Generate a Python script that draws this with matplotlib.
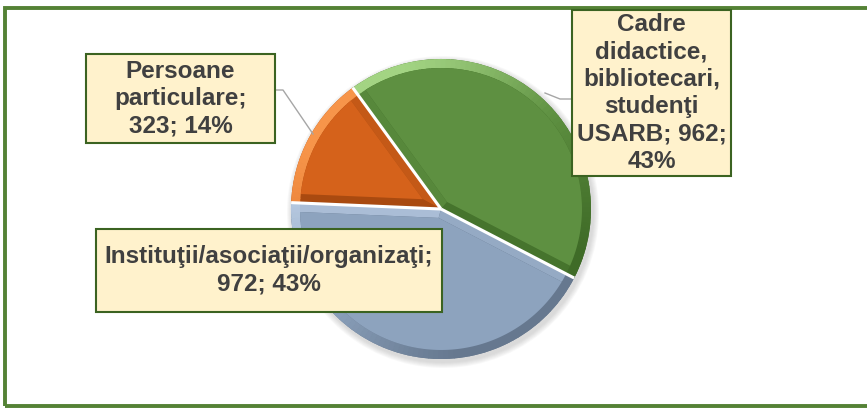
import textwrap

import numpy as np
import matplotlib
matplotlib.use('Agg')
import matplotlib.pyplot as plt
from matplotlib.patches import Rectangle, Wedge, Polygon, Circle


# data
categories = ['Cadre didactice, bibliotecari, studenţi USARB',
              'Persoane particulare',
              'Instituţii/asociaţii/organizaţi']
values = [962, 323, 972]

# colours per slice: main face, dark bevel, light bevel
face_col = ['#5e9041', '#d5621b', '#8da3be']
dark_col = ['#3f6b27', '#a94a10', '#66788f']
light_col = ['#a3d483', '#f7954a', '#c3d4ea']

W, H = 867, 408


def fy(y):
    '''image y (from top) -> data y'''
    return H - y


def mix(c1, c2, t):
    a = np.array(matplotlib.colors.to_rgb(c1))
    b = np.array(matplotlib.colors.to_rgb(c2))
    return tuple(a + (b - a) * t)


def shade(i, ang, bias=0.0):
    # light comes from the upper left
    s = np.cos(np.radians(ang - 130)) + bias
    if s >= 0:
        return mix(face_col[i], light_col[i], min(1, s * 1.1))
    return mix(face_col[i], dark_col[i], min(1, -s * 1.2))


family = ['Liberation Sans', 'DejaVu Sans']
fsize = 17.5

fig = plt.figure(figsize=(W / 100, H / 100), dpi=100)
ax = fig.add_axes([0, 0, 1, 1])

cx, cy, r = 441, fy(209), 150
d = 9  # bevel width

# soft shadow
for k in range(6):
    ax.add_patch(Circle((cx + 2, cy - 3), r + 1 + k, color='#808080',
                        alpha=0.05, lw=0, zorder=0))

wedges, _ = ax.pie(values, startangle=-27.4, counterclock=True,
                   center=(cx, cy), radius=r, colors=dark_col,
                   wedgeprops=dict(edgecolor='white', linewidth=0, zorder=1))

for i, w in enumerate(wedges):
    t1, t2 = w.theta1, w.theta2
    half = np.radians(t2 - t1) / 2
    mid = np.radians(t1 + t2) / 2
    apex = (cx + d / np.sin(half) * np.cos(mid), cy + d / np.sin(half) * np.sin(mid))
    dl = np.degrees(np.arcsin(d / (r - d)))

    # radial bevel strips
    for edge, inner, nrm in [(t1, t1 + dl, t1 - 90), (t2, t2 - dl, t2 + 90)]:
        pts = [(cx, cy),
               (cx + r * np.cos(np.radians(edge)), cy + r * np.sin(np.radians(edge))),
               (cx + (r - d) * np.cos(np.radians(inner)), cy + (r - d) * np.sin(np.radians(inner))),
               apex]
        ax.add_patch(Polygon(pts, closed=True, color=shade(i, nrm, -0.25), lw=0, zorder=2))

    # outer rim
    steps = np.linspace(t1, t2, int((t2 - t1) / 2) + 2)
    for a, b in zip(steps[:-1], steps[1:]):
        ax.add_patch(Wedge((cx, cy), r, a, b + 0.3, width=d,
                           color=shade(i, (a + b) / 2), lw=0, zorder=3))

    # inner face
    arc = np.radians(np.linspace(t1 + dl, t2 - dl, 120))
    pts = [apex] + [(cx + (r - d) * np.cos(a), cy + (r - d) * np.sin(a)) for a in arc]
    ax.add_patch(Polygon(pts, closed=True, color=face_col[i], lw=0, zorder=4))

# white separators
for w in wedges:
    a = np.radians(w.theta1)
    ax.plot([cx, cx + r * np.cos(a)], [cy, cy + r * np.sin(a)],
            color='white', lw=2.2, solid_capstyle='butt', zorder=5)

# leader lines
ax.plot([275, 283, 313], [fy(90), fy(90), fy(134)], color='#a6a6a6', lw=1, zorder=6)
ax.plot([545, 560, 572], [fy(93), fy(99), fy(99)], color='#a6a6a6', lw=1, zorder=6)

# label boxes (x0, y0 top, x1, y1 bottom) in image pixels
boxes = [(572, 10, 731, 176), (86, 54, 275, 143), (96, 229, 442, 312)]
wraps = [12, 12, 32]
total = sum(values)
for i, (x0, y0, x1, y1) in enumerate(boxes):
    ax.add_patch(Rectangle((x0, fy(y1)), x1 - x0, y1 - y0, facecolor='#fff2cc',
                           edgecolor='#3b6321', lw=1.5, zorder=7))
    pct = round(100 * values[i] / total)
    txt = '\n'.join(textwrap.wrap(f'{categories[i]}; {values[i]}; {pct}%', wraps[i],
                                  break_long_words=False))
    ax.text((x0 + x1) / 2, fy((y0 + y1) / 2), txt, ha='center', va='center',
            family=family, fontsize=fsize, fontweight='bold', color='#404040',
            linespacing=1.25, zorder=8)

# outer frame
ax.add_patch(Rectangle((5, fy(406)), W, 398, fill=False, edgecolor='#548235',
                       lw=2.8, zorder=6))

ax.set_xlim(0, W)
ax.set_ylim(0, H)
ax.set_aspect('auto')
ax.axis('off')

fig.savefig('out.png', dpi=100)
